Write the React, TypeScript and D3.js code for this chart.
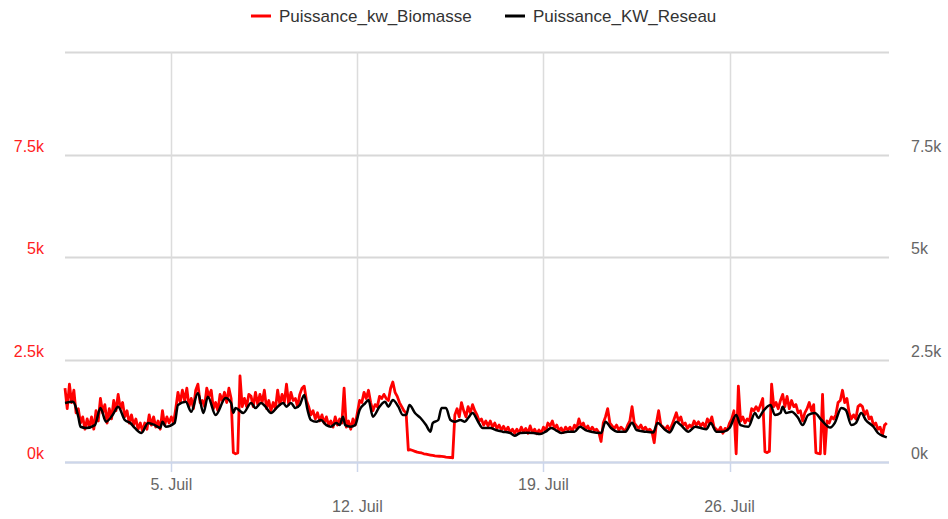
import React from "react";
import * as d3 from "d3";

const WIDTH = 948;
const HEIGHT = 519;

const startDate = new Date(Date.UTC(2020, 6, 1));
const endDate = new Date(Date.UTC(2020, 7, 1));

const xTickDates = ["2020-07-05", "2020-07-12", "2020-07-19", "2020-07-26"];
const xTickLabels = ["5. Juil", "12. Juil", "19. Juil", "26. Juil"];
const yTickValues = [0, 2500, 5000, 7500, 10000];
const yTickLabels = ["0k", "2.5k", "5k", "7.5k", ""];

const seriesNames = ["Puissance_kw_Biomasse", "Puissance_KW_Reseau"];
const seriesColors = ["#ff0000", "#000000"];

// Biomasse: one reading every 2 hours from 1 July 00:00 (12 per day)
const biomasseStepHours = 2;
const biomasseKw = [
  1800, 1300, 1900, 1450, 1750, 1200, 1300, 950, 1100, 800, 1050, 850,
  1100, 800, 1250, 1000, 1550, 1200, 1400, 950, 1300, 1050, 1500, 1250,
  1650, 1300, 1450, 1100, 1250, 950, 1150, 900, 1050, 800, 950, 750,
  950, 800, 1150, 900, 1100, 850, 1000, 800, 1250, 900, 1100, 950,
  1100, 950, 1300, 1700, 1450, 1750, 1500, 1800, 1350, 1550, 1300, 1750,
  1900, 1450, 1500, 1350, 1800, 1600, 1750, 1300, 1450, 1250, 1650, 1500,
  1700, 1450, 1800, 1550, 230, 200, 220, 2100, 1350, 1550, 1350, 1650,
  1600, 1350, 1700, 1400, 1650, 1450, 1750, 1300, 1500, 1250, 1450, 1300,
  1750, 1400, 1650, 1450, 1900, 1400, 1700, 1500, 1550, 1350, 1650, 1800,
  1850, 1500, 1350, 1150, 1250, 1050, 1200, 1000, 1150, 950, 1100, 900,
  1000, 850, 1100, 900, 1050, 950, 1800, 850, 1000, 800, 1050, 900,
  1200, 1500, 1450, 1700, 1550, 1750, 1450, 1250, 1400, 1350, 1600, 1550,
  1650, 1550, 1500, 1800, 1950, 1700, 1600, 1450, 1350, 1250, 1200, 290,
  300, 280, 260, 240, 230, 220, 200, 190, 180, 170, 160, 150,
  145, 140, 135, 130, 120, 115, 110, 100, 1150, 1300, 1100, 1450,
  1250, 1100, 1350, 1200, 1400, 1250, 1150, 1000, 1050, 900, 1000, 880,
  1000, 850, 950, 820, 900, 780, 870, 760, 850, 720, 800, 700,
  800, 700, 850, 730, 820, 700, 880, 720, 800, 690, 780, 700,
  850, 760, 950, 880, 1000, 820, 900, 760, 830, 720, 850, 780,
  850, 750, 900, 820, 1050, 880, 950, 800, 880, 760, 850, 770,
  800, 720, 500, 950, 1100, 1300, 950, 880, 820, 900, 780, 850,
  800, 750, 900, 1000, 1350, 950, 880, 820, 900, 780, 850, 760,
  800, 740, 470, 950, 1250, 900, 850, 800, 880, 760, 900, 1050,
  1200, 1000, 1100, 900, 950, 820, 900, 850, 1000, 900, 980, 880,
  950, 850, 1050, 950, 1100, 850, 800, 750, 850, 700, 820, 780,
  950, 1050, 1250, 200, 1850, 1000, 1100, 950, 1050, 1000, 1300, 1250,
  1350, 1250, 1400, 1550, 250, 230, 260, 1900, 1350, 1450, 1300, 1500,
  1650, 1350, 1600, 1300, 1500, 1350, 1400, 1200, 1250, 1000, 1200, 1300,
  1450, 1250, 1400, 230, 210, 200, 1650, 200, 1000, 950, 1100, 1050,
  1150, 1450, 1500, 1750, 1450, 1550, 1200, 1050, 1150, 1050, 1350, 1400,
  1350, 1150, 1250, 1050, 1100, 900, 950, 800, 850, 650, 900, 950,
];

// Reseau: readings (hours since 1 July 00:00, kW)
const reseauHours = [
  0, 7, 12, 14, 19, 27, 32, 37, 43, 48, 54, 59, 63, 69, 75, 81, 86, 88, 91, 99,
  102, 109, 114, 120, 125, 129, 136, 145, 150, 152, 154, 161, 168, 172, 177, 181,
  186, 192, 197, 200, 204, 208, 212, 216, 219, 222, 227, 231, 236, 240, 245, 248,
  251, 253, 258, 262, 266, 271, 274, 278, 284, 289, 292, 296, 301, 305, 308, 311,
  316, 321, 326, 330, 332, 337, 340, 344, 348, 352, 357, 361, 364, 368, 373, 377,
  384, 389, 395, 402, 406, 411, 416, 423, 429, 434, 439, 443, 448, 454, 460, 465,
  470, 475, 484, 488, 493, 499, 506, 512, 516, 524, 531, 535, 542, 546, 552, 556,
  563, 569, 574, 579, 583, 588, 594, 600, 606, 610, 617, 623, 626, 630, 637, 641,
  646, 648, 651, 656, 662, 666, 671, 677, 683, 691, 695, 701, 705, 710, 714, 719,
  723, 730, 734, 740, 742,
];
const reseauKw = [
  1440, 1470, 1105, 860, 830, 900, 1317, 983, 1146, 1350, 1024, 950, 830, 707, 950, 900, 830, 983, 860, 950,
  1390, 1470, 1227, 1683, 1195, 1593, 1146, 1561, 1439, 1195, 1317, 1195, 1439, 1317, 1439, 1350,
  1195, 1350, 1439, 1350, 1439, 1317, 1390, 1634, 1268, 1024, 983, 1024, 900, 860, 950, 900,
  1105, 900, 860, 900, 1268, 1430, 1512, 1105, 1350, 1470, 1350, 1512, 1350, 1146, 1146, 1390,
  1195, 1073, 900, 740, 950, 1024, 1317, 1317, 1024, 983, 1024, 983, 1073, 1195, 983, 830,
  830, 780, 740, 707, 640, 707, 715, 707, 683, 740, 830, 780, 707, 740, 740, 860,
  780, 740, 707, 983, 830, 740, 740, 960, 780, 740, 720, 950, 780, 720, 983, 900,
  740, 860, 830, 800, 950, 740, 740, 830, 1146, 900, 860, 1195, 1073, 1227, 1390, 1146,
  1195, 1350, 1195, 1227, 1073, 900, 1146, 1195, 1024, 840, 950, 1317, 1268, 900, 950, 1195,
  1024, 860, 707, 620, 600,
];

const FONT = "'Liberation Sans', Arial, sans-serif";

export default function App() {
  const left = 65;
  const right = 889;
  const top = 52;
  const bottom = 462;

  const x = d3.scaleUtc().domain([startDate, endDate]).range([left, right]);
  const y = d3.scaleLinear().domain([0, 10000]).range([bottom, top]);

  const hourToDate = (h: number) => new Date(startDate.getTime() + h * 3600 * 1000);

  const bioData = biomasseKw.map((v, i) => ({ t: hourToDate(i * biomasseStepHours), v }));
  const resData = reseauHours.map((h, i) => ({ t: hourToDate(h), v: reseauKw[i] }));

  const bioLine = d3
    .line<{ t: Date; v: number }>()
    .x((d) => x(d.t))
    .y((d) => y(d.v))
    .curve(d3.curveLinear);
  const resLine = d3
    .line<{ t: Date; v: number }>()
    .x((d) => x(d.t))
    .y((d) => y(d.v))
    .curve(d3.curveMonotoneX);

  const xTicks = xTickDates.map((s) => new Date(s + "T00:00:00Z"));

  return (
    <svg
      width={WIDTH}
      height={HEIGHT}
      style={{ position: "absolute", left: 0, top: 0, background: "#fff" }}
      fontFamily={FONT}
    >
      {/* horizontal grid */}
      {yTickValues.map((v) => (
        <line
          key={"hg" + v}
          x1={left}
          x2={right}
          y1={Math.round(y(v)) + 0.5}
          y2={Math.round(y(v)) + 0.5}
          stroke="#d8d8d8"
          strokeWidth={2}
        />
      ))}
      {/* vertical grid */}
      {xTicks.map((d, i) => (
        <line
          key={"vg" + i}
          x1={Math.round(x(d)) + 0.5}
          x2={Math.round(x(d)) + 0.5}
          y1={top}
          y2={bottom}
          stroke="#dcdcdc"
          strokeWidth={1.5}
        />
      ))}
      {/* x axis line */}
      <line x1={left} x2={right} y1={bottom + 0.5} y2={bottom + 0.5} stroke="#ccd6eb" strokeWidth={2} />
      {xTicks.map((d, i) => (
        <line
          key={"xt" + i}
          x1={Math.round(x(d)) + 0.5}
          x2={Math.round(x(d)) + 0.5}
          y1={bottom}
          y2={bottom + 10}
          stroke="#ccd6eb"
          strokeWidth={1.5}
        />
      ))}
      {xTicks.map((d, i) => (
        <text
          key={"xl" + i}
          x={x(d)}
          y={i % 2 === 0 ? 489.5 : 511.5}
          textAnchor="middle"
          fontSize={16}
          fill="#666"
        >
          {xTickLabels[i]}
        </text>
      ))}
      {/* y labels */}
      {yTickValues.map((v, i) => (
        <text key={"yl" + v} x={44} y={y(v) - 3} textAnchor="end" fontSize={16} fill="#ff2020">
          {yTickLabels[i]}
        </text>
      ))}
      {yTickValues.map((v, i) => (
        <text key={"yr" + v} x={911} y={y(v) - 3} textAnchor="start" fontSize={16} fill="#666">
          {yTickLabels[i]}
        </text>
      ))}
      {/* series */}
      <path d={bioLine(bioData) || ""} fill="none" stroke={seriesColors[0]} strokeWidth={2.8} strokeLinejoin="round" />
      <path d={resLine(resData) || ""} fill="none" stroke={seriesColors[1]} strokeWidth={2.5} strokeLinejoin="round" />
      {/* legend */}
      <line x1={251} x2={271} y1={16} y2={16} stroke={seriesColors[0]} strokeWidth={3} />
      <text x={279} y={22} fontSize={17} fill="#333">
        {seriesNames[0]}
      </text>
      <line x1={505} x2={525} y1={16} y2={16} stroke={seriesColors[1]} strokeWidth={3} />
      <text x={533} y={22} fontSize={17} fill="#333">
        {seriesNames[1]}
      </text>
    </svg>
  );
}
